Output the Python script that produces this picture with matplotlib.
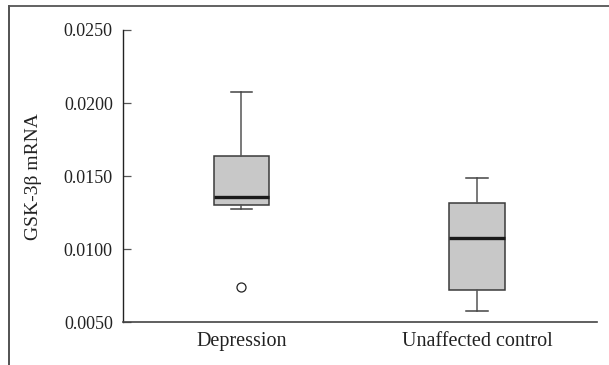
import matplotlib
matplotlib.use("Agg")
import matplotlib.pyplot as plt
from matplotlib.lines import Line2D

categories = ["Depression", "Unaffected control"]
medians = [0.0136, 0.0108]
q1 = [0.01305, 0.0072]
q3 = [0.01636, 0.01318]
whisker_low = [0.01273, 0.00577]
whisker_high = [0.02076, 0.01489]
outliers = [[0.0074], []]
yticks = [0.0050, 0.0100, 0.0150, 0.0200, 0.0250]
ylabel = "GSK-3\u03b2 mRNA"

plt.rcParams['font.family'] = ['Liberation Serif', 'DejaVu Serif']

fig = plt.figure(figsize=(6.09, 3.65), dpi=100)
ax = fig.add_axes([122.5/609, 1 - 322.3/365, (597-122.5)/609, (322.3-30)/365])

stats = []
for i, c in enumerate(categories):
    stats.append(dict(label=c, med=medians[i], q1=q1[i], q3=q3[i],
                      whislo=whisker_low[i], whishi=whisker_high[i],
                      fliers=outliers[i]))

ax.bxp(stats, positions=[1, 2], widths=0.237, capwidths=0.09,
       patch_artist=True, showfliers=True,
       boxprops=dict(facecolor='#c8c8c8', edgecolor='#3a3a3a', linewidth=1.1),
       medianprops=dict(color='#1a1a1a', linewidth=2.4),
       whiskerprops=dict(color='#555555', linewidth=1.1),
       capprops=dict(color='#444444', linewidth=1.1),
       flierprops=dict(marker='o', markerfacecolor='white', markeredgecolor='#222222',
                       markersize=6.5, markeredgewidth=0.9, linestyle='none'))

ax.set_xlim(0.495, 2.51)
ax.set_ylim(0.005, 0.025)
ax.set_yticks(yticks)
ax.set_yticklabels([f"{v:.4f}" for v in yticks])
ax.set_xticks([1, 2])
ax.set_xticklabels(categories)

for s in ['top', 'right']:
    ax.spines[s].set_visible(False)
ax.spines['left'].set_color('#222222')
ax.spines['bottom'].set_color('#444444')
ax.spines['left'].set_linewidth(1.0)
ax.spines['bottom'].set_linewidth(1.2)
ax.tick_params(axis='y', direction='in', length=6, width=0.9, color='#555555',
               labelsize=13, pad=7, labelcolor='#222222')
ax.tick_params(axis='x', length=0, labelsize=14.5, pad=7, labelcolor='#222222')

ax.set_ylabel(ylabel, fontsize=14, color='#222222')
ax.yaxis.set_label_coords(-(122.5-42)/(597-122.5), 0.5)

# figure frame (top and left lines)
fig.add_artist(Line2D([9/609, 9/609], [0, 1 - 5.5/365], transform=fig.transFigure,
                      color='#444444', linewidth=1.3))
fig.add_artist(Line2D([9/609, 1], [1 - 5.5/365, 1 - 5.5/365], transform=fig.transFigure,
                      color='#555555', linewidth=1.3))

fig.savefig("out.png", dpi=100)
